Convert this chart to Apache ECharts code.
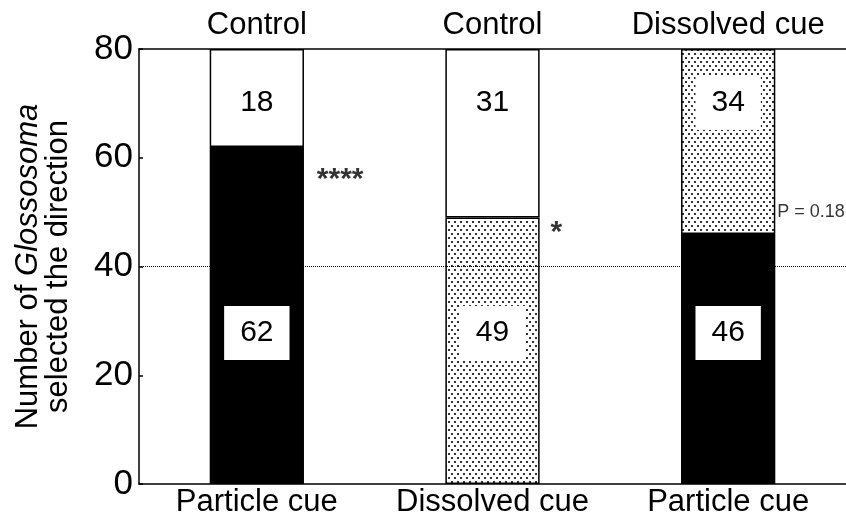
<!DOCTYPE html>
<html><head><meta charset="utf-8">
<script src="https://cdn.jsdelivr.net/npm/echarts@6/dist/echarts.min.js"></script>
<style>html,body{margin:0;padding:0;background:#fff}#c{width:846px;height:521px}</style>
</head><body><div id="c"></div>
<script>
const bottomCategories = ['Particle cue', 'Dissolved cue', 'Particle cue'];
const topCategories = ['Control', 'Control', 'Dissolved cue'];
const lowerValues = [62, 49, 46];
const upperValues = [18, 31, 34];
const lowerFill = ['solid', 'dots', 'solid'];
const upperFill = ['white', 'white', 'dots'];
const annotations = ['****', '*', 'P = 0.18'];
const annotationY = [56, 46.3, 50];
const referenceLine = 40;
const yTicks = [0, 20, 40, 60, 80];

const FONT = '"Liberation Sans", Arial, sans-serif';

function dotPattern() {
  const c = document.createElement('canvas');
  c.width = 6; c.height = 8;
  const g = c.getContext('2d');
  g.fillStyle = '#fff'; g.fillRect(0, 0, 6, 8);
  g.fillStyle = '#333';
  g.fillRect(1, 1, 2, 2);
  g.fillRect(4, 5, 2, 2);
  return { image: c, repeat: 'repeat' };
}
const pattern = dotPattern();
function fillOf(k) {
  if (k === 'solid') return '#000';
  if (k === 'dots') return pattern;
  return '#fff';
}

const labelBox = {
  show: true, color: '#000', fontSize: 30, fontFamily: FONT,
  backgroundColor: '#fff', padding: [12, 16, 12, 16]
};

const chart = echarts.init(document.getElementById('c'), null, { renderer: 'canvas' });
chart.setOption({
  animation: false,
  backgroundColor: '#fff',
  grid: { left: 139, right: 0, top: 49, bottom: 37, containLabel: false },
  xAxis: [
    {
      type: 'category', data: bottomCategories, position: 'bottom',
      axisLine: { lineStyle: { color: '#000', width: 1.5 } },
      axisTick: { inside: true, length: 5, lineStyle: { color: '#000', width: 1.5 } },
      axisLabel: { interval: 0, color: '#000', fontSize: 31, fontFamily: FONT, margin: 3 }
    },
    {
      type: 'category', data: topCategories, position: 'top',
      axisLine: { lineStyle: { color: '#000', width: 1.5 } },
      axisTick: { inside: true, length: 5, lineStyle: { color: '#000', width: 1.5 } },
      axisLabel: { interval: 0, color: '#000', fontSize: 31, fontFamily: FONT, margin: 8 }
    }
  ],
  yAxis: {
    type: 'value', min: yTicks[0], max: yTicks[yTicks.length - 1], interval: 20,
    axisLine: { show: true, lineStyle: { color: '#000', width: 1.5 } },
    axisTick: { show: true, inside: true, length: 4, lineStyle: { color: '#000', width: 1.5 } },
    splitLine: { show: false },
    axisLabel: { color: '#000', fontSize: 35, fontFamily: FONT, margin: 6 },
    name: '{n|Number of }{i|Glossosoma}\n{n|selected the direction}',
    nameLocation: 'middle', nameRotate: 90, nameGap: 66,
    nameTextStyle: {
      color: '#000', fontSize: 31, fontFamily: FONT, lineHeight: 30,
      rich: {
        n: { fontSize: 31, fontFamily: FONT, color: '#000', lineHeight: 30 },
        i: { fontSize: 31, fontFamily: FONT, color: '#000', fontStyle: 'italic', lineHeight: 30 }
      }
    }
  },
  series: [
    {
      type: 'line', data: [], z: 1, silent: true,
      markLine: {
        silent: true, symbol: 'none', label: { show: false },
        lineStyle: { color: '#000', type: 'dotted', width: 1 },
        data: [{ yAxis: referenceLine }]
      }
    },
    {
      type: 'bar', stack: 's', barWidth: '40%', z: 3,
      data: lowerValues.map((v, i) => ({
        value: v,
        itemStyle: { color: fillOf(lowerFill[i]), borderColor: '#000', borderWidth: 1.5 }
      })),
      label: Object.assign({}, labelBox, { position: 'insideBottom', distance: 124 })
    },
    {
      type: 'bar', stack: 's', barWidth: '40%', z: 3,
      data: upperValues.map((v, i) => ({
        value: v,
        itemStyle: { color: fillOf(upperFill[i]), borderColor: '#000', borderWidth: 1.5 }
      })),
      label: Object.assign({}, labelBox, { position: 'insideTop', distance: 27 })
    },
    {
      type: 'scatter', symbolSize: 0, z: 4, silent: true,
      data: annotations.map((t, i) => ({
        value: [i, annotationY[i]],
        label: {
          show: true, formatter: t, position: 'right',
          distance: i === 2 ? 49 : (i === 0 ? 60 : 58),
          fontSize: i === 2 ? 18 : 30, fontWeight: i === 2 ? 'normal' : 'bold',
          fontFamily: FONT, color: '#000'
        }
      }))
    }
  ]
});
</script></body></html>
